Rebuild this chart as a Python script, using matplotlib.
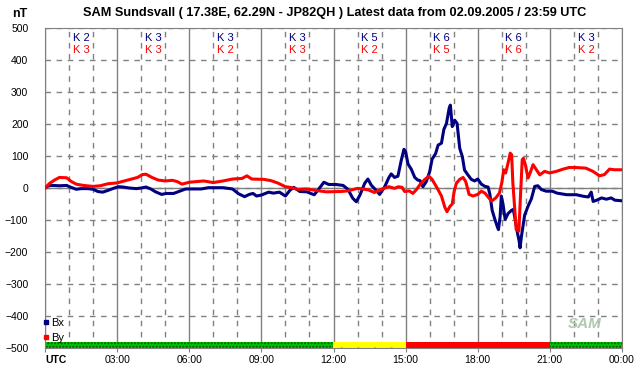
import matplotlib.pyplot as plt
from matplotlib.lines import Line2D

plt.rcParams['font.family'] = ['Liberation Sans', 'DejaVu Sans']

# hours (UTC) and nT values
bx_t = [0.0, 0.15, 0.3, 0.6, 0.9, 1.05, 1.3, 1.5, 1.8, 2.0, 2.2, 2.4, 2.6, 2.85,
        3.05, 3.25, 3.5, 3.8, 4.0, 4.2, 4.4, 4.6, 4.85, 5.05, 5.35, 5.6, 5.85,
        6.0, 6.5, 6.8, 7.4, 7.8, 8.05, 8.3, 8.5, 8.65, 8.8, 9.0, 9.3, 9.5, 9.75,
        10.0, 10.2, 10.35, 10.6, 10.9, 11.05, 11.2, 11.4, 11.6, 11.8, 12.1, 12.4,
        12.6, 12.8, 12.95, 13.1, 13.3, 13.43, 13.57, 13.78, 13.92, 14.13, 14.3,
        14.4, 14.54, 14.68, 14.82, 14.93, 15.0, 15.1, 15.24, 15.38, 15.5, 15.6,
        15.72, 15.86, 16.0, 16.1, 16.25, 16.35, 16.49, 16.59, 16.7, 16.81, 16.86,
        16.94, 17.04, 17.14, 17.25, 17.36, 17.45, 17.59, 17.73, 17.87, 18.0,
        18.15, 18.3, 18.43, 18.5, 18.6, 18.7, 18.8, 18.86, 18.93, 18.98, 19.05,
        19.14, 19.26, 19.4, 19.48, 19.56, 19.65, 19.72, 19.76, 19.81, 19.95,
        20.09, 20.23, 20.37, 20.5, 20.65, 20.85, 21.1, 21.3, 21.7, 22.1, 22.4,
        22.6, 22.72, 22.8, 22.95, 23.15, 23.35, 23.55, 23.7, 24.0]
bx_v = [0, 7, 8, 7, 8, 3, -4, -2, -2, -4, -11, -13, -8, -1,
        4, 3, 0, -2, 0, 3, -3, -12, -20, -17, -17, -10, -3,
        -3, -3, 1, 1, -3, -18, -27, -20, -17, -25, -22, -13, -16, -13,
        -25, -6, 2, -11, -12, -17, -21, -2, 18, 11, 11, 8,
        -4, -32, -43, -22, 15, 28, 9, -8, -20, 4, 32,
        44, 33, 37, 87, 121, 113, 75, 58, 33, 25, 23,
        4, 20, 51, 90, 108, 134, 140, 183, 202, 249, 259,
        192, 212, 202, 124, 98, 56, 41, 27, 22, 28,
        12, 5, 3, -18, -70, -95, -118, -130, -90, -25, -50,
        -98, -80, -70, -67, -100, -140, -165, -187, -155, -85,
        -57, -34, 5, 7, -5, -10, -10, -16, -21, -21, -26,
        -28, -13, -42, -38, -31, -35, -31, -38, -40]

by_t = [0.0, 0.2, 0.4, 0.6, 0.9, 1.1, 1.3, 1.6, 2.0, 2.3, 2.6, 3.0, 3.3, 3.6,
        3.85, 4.05, 4.2, 4.45, 4.7, 5.0, 5.3, 5.5, 5.7, 6.0, 6.3, 6.6, 7.0, 7.4,
        7.8, 8.2, 8.4, 8.6, 9.1, 9.4, 9.7, 10.0, 10.2, 10.5, 10.9, 11.3, 11.7,
        12.3, 12.6, 13.0, 13.3, 13.45, 13.7, 14.0, 14.3, 14.54, 14.7, 14.85,
        14.96, 15.15, 15.3, 15.45, 15.6, 15.8, 15.97, 16.1, 16.28, 16.49, 16.63,
        16.72, 16.84, 16.94, 17.02, 17.11, 17.25, 17.39, 17.5, 17.64, 17.8, 18.0,
        18.15, 18.3, 18.57, 18.75, 18.9, 19.0, 19.08, 19.16, 19.26, 19.35, 19.41,
        19.46, 19.53, 19.6, 19.71, 19.77, 19.85, 19.9, 19.98, 20.09, 20.18, 20.3,
        20.44, 20.58, 20.78, 20.99, 21.27, 21.55, 21.8, 22.1, 22.5, 22.79, 23.07,
        23.27, 23.48, 23.69, 24.0]
by_v = [0, 15, 25, 33, 32, 20, 12, 8, 5, 7, 13, 16, 22, 28,
        33, 42, 43, 33, 25, 22, 24, 20, 12, 18, 20, 22, 17, 22,
        28, 30, 38, 28, 27, 23, 15, 4, 2, -4, -3, -8, -12,
        -11, -9, -1, -4, -6, -14, -4, 4, -1, 4, 2,
        -11, -9, -17, -5, 11, 27, 37, 27, 4, -25, -60,
        -74, -58, -50, -10, 15, 27, 33, 20, -20, -25, -20,
        -10, -16, -41, -31, -16, 16, 57, 47, 78, 109, 104,
        16, -57, -130, -135, -36, 88, 93, 73, 31, 47, 73,
        57, 41, 52, 47, 52, 59, 64, 64, 62, 52, 38,
        42, 59, 57, 57]

# K indices per 3-hour block
k_starts = [0, 3, 6, 9, 12, 15, 18, 21]
k_bx = [2, 3, 3, 3, 5, 6, 6, 3]
k_by = [3, 3, 2, 3, 2, 5, 6, 2]
status = ['green', 'green', 'green', 'green', 'yellow', 'red', 'red', 'green']

hour_labels = ['UTC', '03:00', '06:00', '09:00', '12:00', '15:00', '18:00', '21:00', '00:00']

gray = '#808080'
navy = '#000080'
red = '#ff0000'

fig = plt.figure(figsize=(6.42, 3.76), dpi=100)
ax = fig.add_axes([45 / 642, 1 - 348 / 376, 577 / 642, 320 / 376])

ax.set_xlim(0, 24)
ax.set_ylim(-500, 500)

# grid
ax.set_xticks(range(0, 25, 3))
ax.set_xticks([h for h in range(25) if h % 3], minor=True)
ax.set_yticks(range(-500, 501, 100))
ax.grid(axis='x', which='major', color=gray, lw=1, ls='-')
ax.grid(axis='x', which='minor', color=gray, lw=1, ls=(0, (4, 4)))
ax.grid(axis='y', which='major', color=gray, lw=1, ls=(0, (4, 4)))
ax.axhline(0, color=gray, lw=1, zorder=1)
ax.set_axisbelow(True)

for s in ax.spines.values():
    s.set_color(gray)

# status bar along the bottom
bar_style = {
    'green': dict(color='#00c800', hatch='.....', edgecolor='#005000'),
    'yellow': dict(color='#ffff00', hatch='.', edgecolor='#ff0000'),
    'red': dict(color='#ff0000', hatch=None, edgecolor='#ff0000'),
}
for x0, st in zip(k_starts, status):
    sty = bar_style[st]
    ax.bar(x0, 19, bottom=-500, width=3, align='edge', color=sty['color'],
           hatch=sty['hatch'], edgecolor=sty['edgecolor'], lw=0, zorder=1.5)

ax.plot(bx_t, bx_v, color=navy, lw=2.2, zorder=3)
ax.plot(by_t, by_v, color=red, lw=2.2, zorder=4)

# K indices
for x0, kb, kr in zip(k_starts, k_bx, k_by):
    ax.text(x0 + 1.5, 0.97, f'K {kb}', color=navy, fontsize=8, ha='center',
            va='center', transform=ax.get_xaxis_transform(),
            bbox=dict(facecolor='white', edgecolor='none', pad=0.5))
    ax.text(x0 + 1.5, 0.93, f'K {kr}', color=red, fontsize=8, ha='center',
            va='center', transform=ax.get_xaxis_transform(),
            bbox=dict(facecolor='white', edgecolor='none', pad=0.5))

# tick labels
ax.set_xticklabels(hour_labels, fontsize=7.5)
ax.tick_params(axis='x', which='major', length=3, color=gray, pad=2)
ax.tick_params(axis='x', which='minor', length=0)
ax.tick_params(axis='y', length=0, pad=12, labelsize=7.5)
first = ax.get_xticklabels()[0]
first.set_ha('left')
first.set_fontweight('bold')

# legend
handles = [Line2D([], [], marker='s', ls='none', color=navy, markersize=3),
           Line2D([], [], marker='s', ls='none', color=red, markersize=3)]
ax.legend(handles, ['Bx', 'By'], loc='lower left', bbox_to_anchor=(-0.003, 0.016),
          frameon=False, fontsize=8, handlelength=0.5, handletextpad=0.2,
          labelspacing=0.45, borderpad=0, borderaxespad=0)

# logo
ax.text(0.935, 0.075, 'SAM', transform=ax.transAxes, fontsize=11, style='italic',
        fontweight='bold', color='#b0c8b0', ha='center', va='center')

fig.text(335 / 642, 1 - 13 / 376,
         'SAM Sundsvall ( 17.38E, 62.29N - JP82QH ) Latest data from 02.09.2005 / 23:59 UTC',
         ha='center', va='center', fontsize=9.2, fontweight='bold')
fig.text(20 / 642, 1 - 14 / 376, 'nT', ha='center', va='center', fontsize=9,
         fontweight='bold')

fig.savefig('out.png', dpi=100)
